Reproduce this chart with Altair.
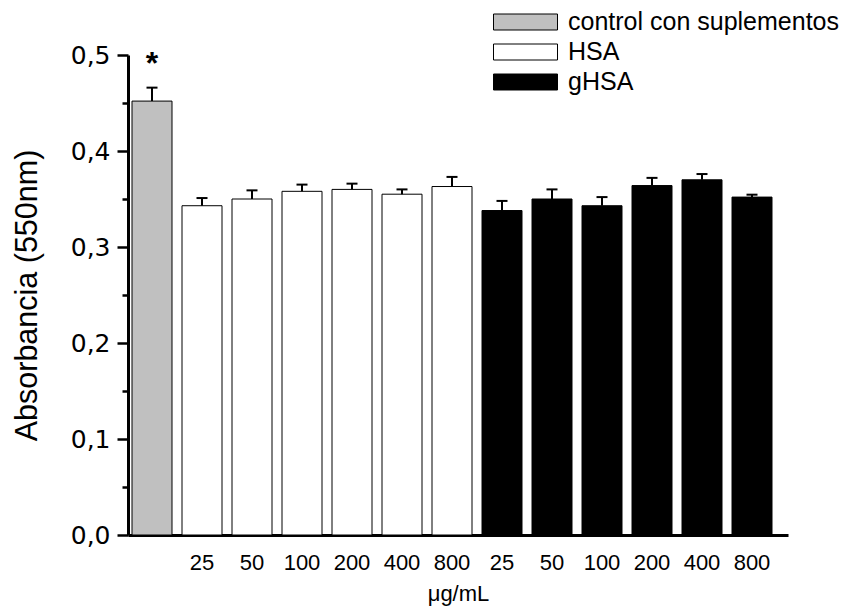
import altair as alt
import pandas as pd

# ---- data ----
codes = ["ctrl", "H_25", "H_50", "H_100", "H_200", "H_400", "H_800",
         "G_25", "G_50", "G_100", "G_200", "G_400", "G_800"]
groups = ["control con suplementos"] + ["HSA"] * 6 + ["gHSA"] * 6
means = [0.452, 0.343, 0.350, 0.358, 0.360, 0.355, 0.363,
         0.338, 0.350, 0.343, 0.364, 0.370, 0.352]
errs = [0.014, 0.008, 0.009, 0.007, 0.006, 0.005, 0.010,
        0.010, 0.010, 0.009, 0.008, 0.006, 0.0025]
signif = ["*"] + [""] * 12

legend_order = ["control con suplementos", "HSA", "gHSA"]
legend_colors = ["#c0c0c0", "#ffffff", "#000000"]
y_ticks = [0.0, 0.05, 0.1, 0.15, 0.2, 0.25, 0.3, 0.35, 0.4, 0.45, 0.5]

df = pd.DataFrame({"code": codes, "group": groups, "mean": means,
                   "err": errs, "signif": signif})
df["top"] = df["mean"] + df["err"]

FONT = "Liberation Sans"

x_enc = alt.X("code:N", sort=codes,
              scale=alt.Scale(paddingInner=0.2, paddingOuter=0.2, align=0.2),
              axis=alt.Axis(
                  title="μg/mL",
                  labelExpr="datum.value == 'ctrl' ? '' : split(datum.value, '_')[1]",
                  labelAngle=0, tickSize=0, domainWidth=3, domainColor="black",
                  labelFontSize=22, labelPadding=17, labelColor="black",
                  titleFontSize=22, titleFontWeight="normal", titleColor="black",
                  titleY=65, titleBaseline="alphabetic", grid=False))

y_scale = alt.Scale(domain=[0, 0.5], nice=False, zero=True)

base = alt.Chart(df)

bars = base.mark_bar(stroke="black", strokeWidth=1).encode(
    x=x_enc,
    y=alt.Y("mean:Q", scale=y_scale,
            axis=alt.Axis(
                values=y_ticks,
                labelExpr="round(datum.value*100) % 10 == 0 ? replace(format(datum.value, '.1f'), '.', ',') : ''",
                tickSize={"condition": {"test": "round(datum.value*100) % 10 == 0", "value": 11}, "value": 6},
                tickWidth=2.5, tickColor="black",
                domainWidth=3, domainColor="black",
                labelFont="DejaVu Sans",
                labelFontSize=25, labelPadding=7, labelColor="black",
                title="Absorbancia (550nm)", titleFontSize=30.5,
                titleFontWeight="normal", titleColor="black",
                titleX=-101, titleBaseline="middle", grid=False)),
    color=alt.Color("group:N",
                    scale=alt.Scale(domain=legend_order, range=legend_colors),
                    legend=alt.Legend(
                        orient="none", legendX=365, legendY=-48, title=None,
                        symbolType="M-1,-0.25H1V0.25H-1Z", symbolSize=4096,
                        clipHeight=30, rowPadding=0, labelOffset=10,
                        labelFontSize=25, labelFont=FONT, labelColor="black",
                        labelLimit=0,
                        symbolStrokeColor="black", symbolStrokeWidth=1,
                        symbolOpacity=1, padding=0)),
)

err_rule = base.mark_rule(color="black", strokeWidth=2).encode(
    x=alt.X("code:N", sort=codes), y=alt.Y("mean:Q"), y2="top:Q")

err_cap = base.mark_tick(color="black", thickness=2, size=11, opacity=1).encode(
    x=alt.X("code:N", sort=codes), y=alt.Y("top:Q"))

star = base.mark_text(dy=-14, baseline="alphabetic", fontSize=32,
                      fontWeight="bold", font=FONT, color="black").encode(
    x=alt.X("code:N", sort=codes), y=alt.Y("top:Q"), text="signif:N")

chart = alt.layer(bars, err_rule, err_cap, star).properties(
    width=660, height=480,
    padding={"left": 120, "top": 47, "right": 52, "bottom": 75},
    autosize=alt.AutoSizeParams(type="none"),
).configure_view(stroke=None).configure_axis(
    titleFont=FONT
).configure_axisX(labelFont=FONT).configure_text(font=FONT)

chart.save("out.html", embed_options={"renderer": "svg", "actions": False})
